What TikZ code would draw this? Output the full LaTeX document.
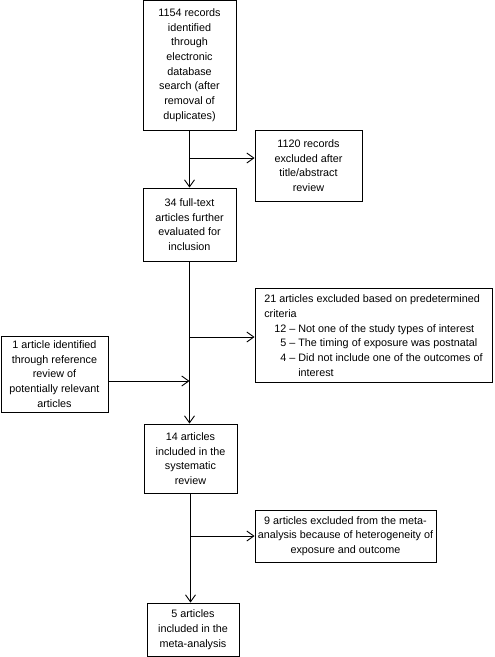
\documentclass[tikz,border=0pt]{standalone}
\usepackage{fontspec}
\setmainfont{Liberation Sans}
\usetikzlibrary{arrows.meta}

\tikzstyle{box} = [rectangle, draw, line width=0.9pt, text centered, align=center,
  inner sep=2pt, font=\fontsize{10.8}{14.7}\selectfont]
\tikzstyle{note} = [rectangle, draw, line width=0.9pt, align=left,
  inner sep=6pt, font=\fontsize{10.8}{14.7}\selectfont]
\tikzstyle{arr} = [line width=0.9pt, -{Straight Barb[length=7pt,width=10pt]}]
\tikzstyle{line} = [line width=0.9pt]

\begin{document}
\begin{tikzpicture}[x=1pt, y=-1pt]
  \useasboundingbox (0,0) rectangle (495,657);

  % main column
  \node[box, minimum width=93pt, minimum height=130pt] (rec) at (189.5,65)
    {1154 records\\identified\\through\\electronic\\database\\search (after\\removal of\\duplicates)};
  \node[box, minimum width=93pt, minimum height=73pt] (full) at (189.5,224.5)
    {34 full-text\\articles further\\evaluated for\\inclusion};
  \node[box, minimum width=93pt, minimum height=69pt] (incl) at (190.5,458.5)
    {14 articles\\included in the\\systematic\\review};
  \node[box, minimum width=92pt, minimum height=53pt] (meta) at (193,629.5)
    {5 articles\\included in the\\meta-analysis};

  % side boxes
  \node[box, minimum width=107pt, minimum height=71pt] (excl1) at (308.5,165.5)
    {1120 records\\excluded after\\title/abstract\\review};
  \node[note, minimum width=237pt, minimum height=83pt] (excl2) at (373.5,335.5)
    {21 articles excluded based on predetermined\\criteria\\
     \hspace*{10pt}12 \textendash{} Not one of the study types of interest\\
     \hspace*{16pt}5 \textendash{} The timing of exposure was postnatal\\
     \hspace*{16pt}4 \textendash{} Did not include one of the outcomes of\\
     \hspace*{34pt}interest};
  \node[box, minimum width=107pt, minimum height=76pt] (refs) at (54.5,374)
    {1 article identified\\through reference\\review of\\potentially relevant\\articles};
  \node[box, minimum width=181pt, minimum height=52pt] (excl3) at (345.5,536)
    {9 articles excluded from the meta-\\analysis because of heterogeneity of\\exposure and outcome};

  % branch points
  \coordinate (b1) at (189.5,158);
  \coordinate (b2) at (189.5,337);
  \coordinate (b3) at (189.5,381);
  \coordinate (b4) at (190.5,536);

  \draw[arr] (rec.south) -- (full.north);
  \draw[arr] (full.south) -- (full.south |- incl.north);
  \draw[arr] (incl.south) -- (incl.south |- meta.north);

  \draw[arr] (b1) -- (b1 -| excl1.west);
  \draw[arr] (b2) -- (b2 -| excl2.west);
  \draw[arr] (refs.east |- b3) -- (b3);
  \draw[arr] (b4) -- (b4 -| excl3.west);
\end{tikzpicture}
\end{document}
